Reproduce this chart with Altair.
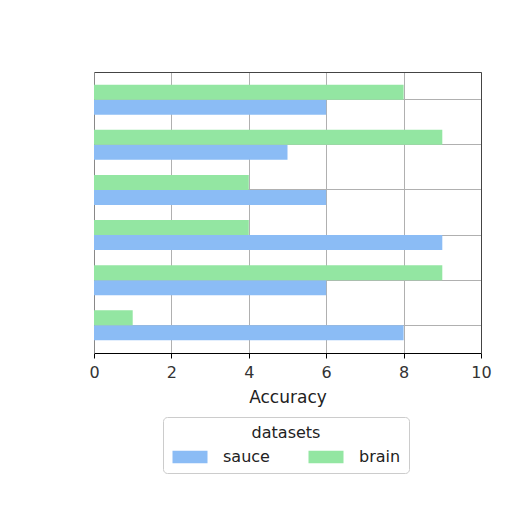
import altair as alt
import pandas as pd

categories = ["g1", "g2", "g3", "g4", "g5", "g6"]  # top to bottom
sauce = [6, 5, 6, 9, 6, 8]
brain = [8, 9, 4, 4, 9, 1]
datasets = ["sauce", "brain"]
colors = ["#8bbcf5", "#93e6a2"]

rows = []
for c, s, b in zip(categories, sauce, brain):
    rows.append({"cat": c, "dataset": "sauce", "value": s})
    rows.append({"cat": c, "dataset": "brain", "value": b})
df = pd.DataFrame(rows)

FONT = "DejaVu Sans"

xscale = alt.Scale(domain=[0, 10], nice=False)
yscale = alt.Scale(paddingInner=0.333, paddingOuter=0.28)

bars = alt.Chart(df).mark_bar().encode(
    x=alt.X("value:Q", scale=xscale,
            axis=alt.Axis(values=[0, 2, 4, 6, 8, 10], title="Accuracy",
                          grid=True, gridColor="#b0b0b0", gridWidth=1,
                          domainColor="#000000", tickColor="#000000", tickSize=5,
                          labelFontSize=16, titleFontSize=17, labelColor="#333333",
                          titleColor="#222222", labelPadding=6, titlePadding=9,
                          labelFlush=False,
                          labelFont=FONT, titleFont=FONT, labelFontWeight="normal",
                          titleFontWeight="normal")),
    y=alt.Y("cat:N", sort=categories, scale=yscale,
            axis=alt.Axis(title=None, labels=False, ticks=False, domain=True,
                          domainColor="#888888",
                          grid=True, gridColor="#b0b0b0", bandPosition=0.5)),
    yOffset=alt.YOffset("dataset:N", sort=["brain", "sauce"],
                        scale=alt.Scale(paddingInner=0, paddingOuter=0)),
    color=alt.Color("dataset:N",
                    scale=alt.Scale(domain=datasets, range=colors),
                    legend=alt.Legend(title="datasets", orient="none",
                                      legendX=69, legendY=345, columns=2,
                                      direction="horizontal",
                                      titleAnchor="middle", titleAlign="center",
                                      titleFontSize=16, labelFontSize=16,
                                      titleFont=FONT, labelFont=FONT,
                                      titleFontWeight="normal",
                                      titleColor="#222222", labelColor="#222222",
                                      symbolType="M-2.5,-0.9H2.5V0.9H-2.5Z",
                                      symbolSize=196, symbolStrokeWidth=0,
                                      symbolOpacity=1, symbolOffset=11,
                                      labelOffset=25, columnPadding=37,
                                      rowPadding=0,
                                      padding=8, strokeColor="#cccccc",
                                      fillColor="#ffffff", cornerRadius=4,
                                      titlePadding=8)),
)

frame = alt.Chart(df).mark_point(opacity=0).encode(
    x=alt.X("value:Q", scale=xscale,
            axis=alt.Axis(orient="top", labels=False, ticks=False, grid=False,
                          title=None, domainColor="#444444")),
    y=alt.Y("cat:N", sort=categories, scale=yscale,
            axis=alt.Axis(orient="right", labels=False, ticks=False, grid=False,
                          title=None, domainColor="#444444")),
)

chart = alt.layer(bars, frame).resolve_axis(x="independent", y="independent").properties(
    width=387, height=281,
    autosize=alt.AutoSizeParams(type="none"),
    padding={"left": 86, "top": 64, "right": 16, "bottom": 140},
).configure_view(
    stroke=None, fill="#ffffff"
).configure(background="#ffffff")

chart.save("out.html", embed_options={"renderer": "svg", "actions": False})
